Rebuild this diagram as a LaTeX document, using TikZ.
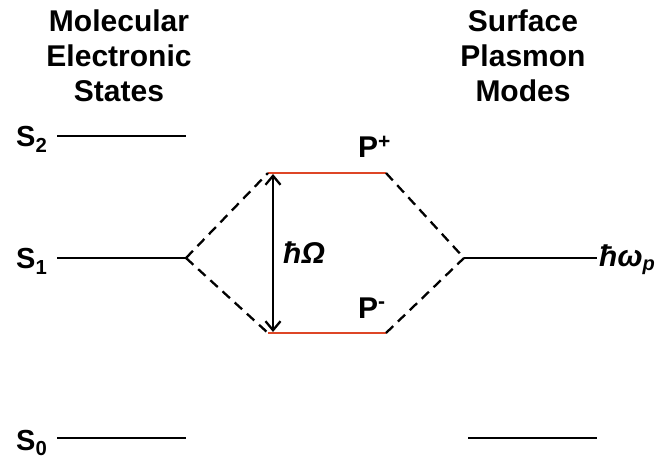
\documentclass[tikz,border=0pt]{standalone}
\usepackage{fontspec}
\setmainfont{Liberation Sans}
\usetikzlibrary{arrows.meta}
\definecolor{polred}{RGB}{222,70,38}
\begin{document}
\begin{tikzpicture}[x=1pt,y=-1pt,
  level/.style={line width=2.8pt,black},
  pol/.style={line width=2.8pt,draw=polred},
  conn/.style={line width=2.3pt,dash pattern=on 10pt off 6.5pt},
  gap/.style={line width=2.3pt,{Straight Barb[length=9pt,width=15pt,line width=2.3pt]}-{Straight Barb[length=9pt,width=15pt,line width=2.3pt]}},
  title/.style={font=\fontsize{30}{35}\selectfont\bfseries,align=center,inner sep=0pt},
  lab/.style={font=\fontsize{29}{32}\selectfont\bfseries,inner sep=0pt},
  plab/.style={font=\fontsize{30}{32}\selectfont\bfseries,inner sep=0pt},
  elab/.style={font=\fontsize{30}{32}\selectfont\bfseries\itshape,inner sep=0pt}]
\useasboundingbox (0,0) rectangle (661,462);
% titles
\node[title] (tmol) at (119,56) {Molecular\\Electronic\\States};
\node[title] (tsp) at (523,56) {Surface\\Plasmon\\Modes};
% molecular levels
\coordinate (s2a) at (57,136); \coordinate (s2b) at (186,136);
\coordinate (s1a) at (57,258); \coordinate (s1b) at (186,258);
\coordinate (s0a) at (57,438); \coordinate (s0b) at (186,438);
\draw[level] (s2a) -- (s2b);
\draw[level] (s1a) -- (s1b);
\draw[level] (s0a) -- (s0b);
\node[lab,anchor=base west] (ls2) at (16,147) {S\textsubscript{2}};
\node[lab,anchor=base west] (ls1) at (16,269) {S\textsubscript{1}};
\node[lab,anchor=base west] (ls0) at (16,450) {S\textsubscript{0}};
% plasmon levels
\coordinate (wa) at (464,258); \coordinate (wb) at (597,258);
\coordinate (g0a) at (468,438); \coordinate (g0b) at (597,438);
\draw[level] (wa) -- (wb);
\draw[level] (g0a) -- (g0b);
\node[elab,anchor=base west] (lw) at (599,267) {ħω\textsubscript{\fontsize{20}{22}\selectfont p}};
% polariton levels
\coordinate (pua) at (268,173); \coordinate (pub) at (386,173);
\coordinate (pla) at (268,333); \coordinate (plb) at (386,333);
\draw[pol] (pua) -- (pub);
\draw[pol] (pla) -- (plb);
\node[plab,anchor=base west] (lpp) at (358,158) {P\textsuperscript{+}};
\node[plab,anchor=base west] (lpm) at (358,318) {P\textsuperscript{-}};
% connectors
\draw[conn] (s1b) -- (pua);
\draw[conn] (s1b) -- (pla);
\draw[conn] (pub) -- (wa);
\draw[conn] (plb) -- (wa);
% Rabi splitting
\coordinate (ra) at (273,174); \coordinate (rb) at (273,332);
\draw[gap] (ra) -- (rb);
\node[elab,anchor=base west] (lrabi) at (283,264) {ħΩ};
\end{tikzpicture}
\end{document}
